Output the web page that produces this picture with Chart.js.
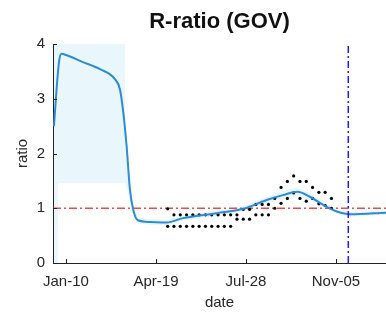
<!DOCTYPE html>
<html>
<head>
<meta charset="utf-8">
<script src="https://cdn.jsdelivr.net/npm/chart.js@4"></script>
<style>
  html, body { margin: 0; padding: 0; background: #fff; overflow: hidden; }
  canvas { display: block; }
</style>
</head>
<body>
<canvas id="chart" width="386" height="318"></canvas>
<script>
// days counted from Jan-10 (2020)
const tickDays = [0, 100, 200, 300];
const tickLabels = ["Jan-10", "Apr-19", "Jul-28", "Nov-05"];

// model estimate (blue line)
const fitDays = [-13.3, -10.3, -7.5, -4.8, 0, 18.9, 37.8, 54.4, 60, 63.7, 67.4, 71.1, 74.8, 80, 93.3, 112, 130, 168, 197, 223, 241, 257, 271, 286, 301, 316, 356];
const fitR = [2.5, 3.2, 3.7, 3.82, 3.8, 3.67, 3.54, 3.36, 3.17, 2.75, 2.13, 1.34, 0.97, 0.78, 0.75, 0.74, 0.82, 0.91, 0.99, 1.15, 1.24, 1.3, 1.21, 1.06, 0.94, 0.89, 0.92];

// confidence band
const bandDays = [-13.3, -9, -8.9, 65.6, 65.7, 70, 75, 80, 93, 112, 130, 168, 197, 223, 241, 257, 271, 286, 301, 316, 356];
const bandHigh = [4, 4, 4, 4, 2.1, 1.5, 1.05, 0.84, 0.8, 0.79, 0.87, 0.96, 1.04, 1.21, 1.32, 1.38, 1.28, 1.11, 0.98, 0.93, 0.96];
const bandLow = [0, 0, 1.46, 1.46, 1.46, 1.2, 0.9, 0.72, 0.7, 0.69, 0.77, 0.86, 0.94, 1.09, 1.16, 1.22, 1.14, 1.01, 0.9, 0.85, 0.88];

// weekly reported range (black dots)
const weekDays = [113, 120, 127, 134, 141, 148, 155, 162, 169, 176, 183, 190, 197, 204, 211, 218, 225, 232, 239, 246, 253, 260, 267, 274, 281, 288, 295];
const reportHigh = [0.99, 0.88, 0.88, 0.88, 0.88, 0.88, 0.88, 0.88, 0.88, 0.88, 0.88, 0.88, 0.98, 0.98, 1.07, 1.07, 1.07, 1.18, 1.38, 1.49, 1.59, 1.49, 1.49, 1.38, 1.29, 1.29, 1.18];
const reportLow = [0.67, 0.67, 0.67, 0.67, 0.67, 0.67, 0.67, 0.67, 0.67, 0.67, 0.67, 0.8, 0.8, 0.8, 0.88, 0.88, 0.88, 1.0, 1.09, 1.18, 1.28, 1.18, 1.13, 1.18, 1.08, 1.05, 1.0];

const thresholdR = 1;
const markerDay = 313.7;
const xMin = -14.4;
const xMax = 355.6;

const pts = (xs, ys) => xs.map((x, i) => ({ x: x, y: ys[i] }));
const font = "'Liberation Sans', Arial, sans-serif";

const inwardTicks = {
  id: "inwardTicks",
  afterDatasetsDraw(chart) {
    const { ctx, chartArea, scales } = chart;
    ctx.save();
    ctx.strokeStyle = "#222";
    ctx.lineWidth = 1;
    ctx.beginPath();
    scales.x.ticks.forEach(t => {
      const px = Math.round(scales.x.getPixelForValue(t.value)) + 0.5;
      ctx.moveTo(px, chartArea.bottom);
      ctx.lineTo(px, chartArea.bottom - 4);
    });
    scales.y.ticks.forEach(t => {
      const py = Math.round(scales.y.getPixelForValue(t.value)) + 0.5;
      ctx.moveTo(chartArea.left, py);
      ctx.lineTo(chartArea.left + 4, py);
    });
    ctx.stroke();
    ctx.restore();
  }
};

new Chart(document.querySelector("#chart").getContext("2d"), {
  type: "line",
  data: {
    datasets: [
      {
        label: "band low",
        data: pts(bandDays, bandLow),
        borderWidth: 0,
        pointRadius: 0,
        fill: false,
        tension: 0,
        order: 10,
      },
      {
        label: "band high",
        data: pts(bandDays, bandHigh),
        borderWidth: 0,
        pointRadius: 0,
        backgroundColor: "#e9f7fc",
        fill: 0,
        tension: 0,
        order: 9,
      },
      {
        label: "R = 1",
        data: [{ x: xMin, y: thresholdR }, { x: xMax, y: thresholdR }],
        borderColor: "rgba(240,40,40,0.85)",
        borderWidth: 1.5,
        borderDash: [8, 3, 2, 3],
        pointRadius: 0,
        order: 5,
      },
      {
        label: "report high",
        data: pts(weekDays, reportHigh),
        showLine: false,
        pointRadius: 1.6,
        pointBackgroundColor: "#000",
        pointBorderWidth: 0,
        order: 3,
      },
      {
        label: "report low",
        data: pts(weekDays, reportLow),
        showLine: false,
        pointRadius: 1.6,
        pointBackgroundColor: "#000",
        pointBorderWidth: 0,
        order: 3,
      },
      {
        label: "R estimate",
        data: pts(fitDays, fitR),
        borderColor: "#2d8bd3",
        borderWidth: 2,
        pointRadius: 0,
        cubicInterpolationMode: "monotone",
        order: 1,
      },
      {
        label: "marker",
        data: [{ x: markerDay, y: 0 }, { x: markerDay, y: 4 }],
        borderColor: "#1a1aff",
        borderWidth: 1.5,
        borderDash: [7, 3, 2, 3],
        pointRadius: 0,
        order: 0,
      },
    ],
  },
  options: {
    responsive: false,
    animation: false,
    layout: { padding: 0, autoPadding: false },
    plugins: {
      legend: { display: false },
      tooltip: { enabled: false },
      title: {
        display: true,
        text: "R-ratio (GOV)",
        fullSize: false,
        color: "#111",
        font: { family: font, size: 22, weight: "bold" },
        padding: { top: 9, bottom: 8.6 },
      },
    },
    scales: {
      x: {
        type: "linear",
        min: xMin,
        max: xMax,
        afterBuildTicks: s => { s.ticks = tickDays.map(v => ({ value: v })); },
        afterFit: s => {
          s.height = 55;
          s.paddingLeft = 0;
          s.paddingRight = 0;
        },
        ticks: {
          padding: 10,
          color: "#262626",
          font: { family: font, size: 15 },
          callback: v => tickLabels[tickDays.indexOf(v)],
        },
        grid: { drawOnChartArea: false, drawTicks: false },
        border: { color: "#222", width: 1 },
        title: {
          display: true,
          text: "date",
          color: "#262626",
          font: { family: font, size: 15 },
          padding: { top: 0, bottom: 6 },
        },
      },
      y: {
        min: 0,
        max: 4,
        afterFit: s => { s.width = 53; },
        ticks: {
          stepSize: 1,
          padding: 8,
          color: "#262626",
          font: { family: font, size: 15 },
        },
        grid: { drawOnChartArea: false, drawTicks: false },
        border: { color: "#222", width: 1 },
        title: {
          display: true,
          text: "ratio",
          color: "#262626",
          font: { family: font, size: 15 },
          padding: { top: 14, bottom: 0 },
        },
      },
    },
  },
  plugins: [inwardTicks],
});
</script>
</body>
</html>
